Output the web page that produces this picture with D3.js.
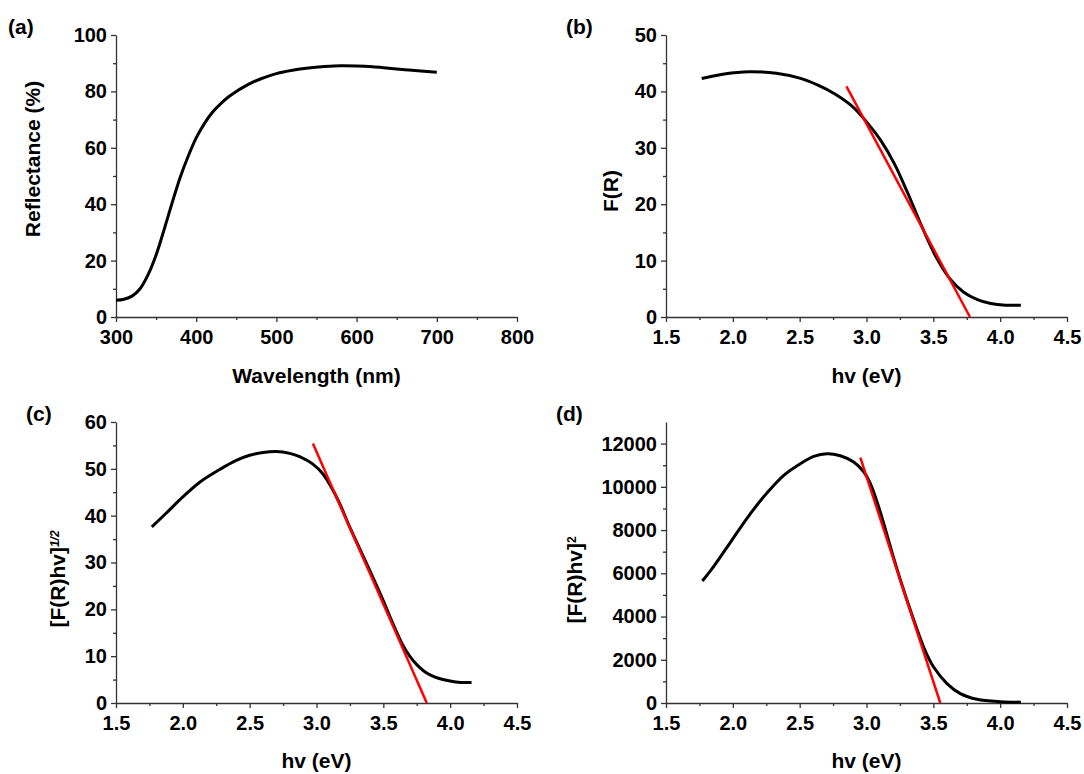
<!DOCTYPE html>
<html>
<head>
<meta charset="utf-8">
<script src="https://cdn.jsdelivr.net/npm/d3@7"></script>
<style>
  body { margin: 0; background: #fff; }
  svg { display: block; font-family: Arial, "Liberation Sans", sans-serif; font-weight: bold; }
  .domain, .tick line { stroke: #333; stroke-width: 1.3; }
  .tick text { fill: #000; font-size: 20px; }
</style>
</head>
<body>
<svg id="chart" width="1084" height="774"></svg>
<script>
'use strict';
// (a) reflectance spectrum
var A_WAVELENGTH = [300, 310, 320, 330, 340, 350, 360, 370, 380, 390, 400, 410, 420, 430, 440, 450,
  460, 470, 480, 500, 520, 540, 560, 580, 600, 620, 640, 660, 680, 700];
var A_REFLECTANCE = [5.9, 6.3, 7.4, 10, 15, 22, 31, 40.5, 49.5, 57, 63.5, 68.5, 72.5, 75.5, 78, 80,
  81.7, 83.2, 84.4, 86.3, 87.5, 88.3, 88.8, 89.1, 89.0, 88.7, 88.2, 87.7, 87.2, 86.8];

// (b) F(R)
var B_ENERGY = [1.767, 1.936, 2.118, 2.325, 2.507, 2.637, 2.767, 2.896, 3.0, 3.104, 3.208, 3.31,
  3.415, 3.519, 3.623, 3.727, 3.83, 3.93, 4.04, 4.155];
var B_FR = [42.3, 43.1, 43.5, 43.2, 42.3, 41.1, 39.5, 37.3, 34.6, 31.4, 27.2, 21.9,
  16, 10.7, 6.8, 4.4, 3.1, 2.4, 2.1, 2.1];
var B_FIT_X = [2.85, 3.774];
var B_FIT_Y = [40.9, 0];

// (c) [F(R)hv]^1/2
var C_ENERGY = [1.768, 1.871, 2.0, 2.129, 2.284, 2.4, 2.5, 2.6, 2.7, 2.8, 2.874, 2.973, 3.048,
  3.11, 3.173, 3.248, 3.322, 3.4, 3.5, 3.55, 3.608, 3.65, 3.7, 3.75, 3.8, 3.85, 3.9, 4.0, 4.08, 4.16];
var C_VALUE = [37.6, 40.4, 44.0, 47.2, 50.0, 51.8, 52.9, 53.5, 53.7, 53.3, 52.6, 51.0, 48.9,
  46.1, 42.6, 37.6, 33.0, 28.2, 21.8, 18.4, 14.6, 12.1, 9.9, 8.2, 6.9, 6.0, 5.4, 4.7, 4.4, 4.4];
var C_FIT_X = [2.973, 3.825];
var C_FIT_Y = [55.4, 0];

// (d) [F(R)hv]^2
var D_ENERGY = [1.772, 1.863, 1.992, 2.122, 2.251, 2.381, 2.505, 2.605, 2.705, 2.804, 2.904, 2.979,
  3.029, 3.1, 3.18, 3.253, 3.35, 3.44, 3.502, 3.602, 3.702, 3.827, 4.0, 4.155];
var D_VALUE = [5646, 6370, 7527, 8684, 9687, 10535, 11073, 11411, 11536, 11440, 11150, 10700,
  10150, 8900, 7200, 5700, 3900, 2400, 1665, 897, 435, 171, 60, 40];
var D_FIT_X = [2.954, 3.552];
var D_FIT_Y = [11350, 0];

// ticks
var A_XTICKS = [300, 400, 500, 600, 700, 800];
var A_XMINOR = [350, 450, 550, 650, 750];
var EV_TICKS = [1.5, 2.0, 2.5, 3.0, 3.5, 4.0, 4.5];
var EV_MINOR = [1.75, 2.25, 2.75, 3.25, 3.75, 4.25];
var A_YTICKS = [0, 20, 40, 60, 80, 100];
var A_YMINOR = [10, 30, 50, 70, 90];
var B_YTICKS = [0, 10, 20, 30, 40, 50];
var B_YMINOR = [5, 15, 25, 35, 45];
var C_YTICKS = [0, 10, 20, 30, 40, 50, 60];
var C_YMINOR = [5, 15, 25, 35, 45, 55];
var D_YTICKS = [0, 2000, 4000, 6000, 8000, 10000, 12000];
var D_YMINOR = [1000, 3000, 5000, 7000, 9000, 11000];

var svg = d3.select('#chart');

function zip(xs, ys) {
  return xs.map(function(x, i) { return [x, ys[i]]; });
}

var panels = [
  { tag: '(a)', tagX: 8, tagY: 34, left: 116, right: 517, top: 35, bottom: 317,
    xDomain: [300, 800], yDomain: [0, 100],
    xTicks: A_XTICKS, xMinor: A_XMINOR, xFmt: d3.format('d'),
    yTicks: A_YTICKS, yMinor: A_YMINOR,
    xTitle: 'Wavelength (nm)', xTitleY: 383,
    yTitle: ['Reflectance (%)'], yTitleX: 33, yTitleY: 159,
    curve: zip(A_WAVELENGTH, A_REFLECTANCE), fit: null },
  { tag: '(b)', tagX: 566, tagY: 34, left: 666, right: 1067, top: 35, bottom: 317,
    xDomain: [1.5, 4.5], yDomain: [0, 50],
    xTicks: EV_TICKS, xMinor: EV_MINOR, xFmt: d3.format('.1f'),
    yTicks: B_YTICKS, yMinor: B_YMINOR,
    xTitle: 'hv (eV)', xTitleY: 383,
    yTitle: ['F(R)'], yTitleX: 611, yTitleY: 191,
    curve: zip(B_ENERGY, B_FR), fit: zip(B_FIT_X, B_FIT_Y) },
  { tag: '(c)', tagX: 26, tagY: 421, left: 116, right: 517, top: 422, bottom: 703,
    xDomain: [1.5, 4.5], yDomain: [0, 60],
    xTicks: EV_TICKS, xMinor: EV_MINOR, xFmt: d3.format('.1f'),
    yTicks: C_YTICKS, yMinor: C_YMINOR,
    xTitle: 'hv (eV)', xTitleY: 768,
    yTitle: ['[F(R)hv]', '1/2'], yTitleX: 58, yTitleY: 579,
    curve: zip(C_ENERGY, C_VALUE), fit: zip(C_FIT_X, C_FIT_Y) },
  { tag: '(d)', tagX: 556, tagY: 421, left: 666, right: 1067, top: 422, bottom: 703,
    xDomain: [1.5, 4.5], yDomain: [0, 13000],
    xTicks: EV_TICKS, xMinor: EV_MINOR, xFmt: d3.format('.1f'),
    yTicks: D_YTICKS, yMinor: D_YMINOR,
    xTitle: 'hv (eV)', xTitleY: 768,
    yTitle: ['[F(R)hv]', '2'], yTitleX: 575, yTitleY: 580,
    curve: zip(D_ENERGY, D_VALUE), fit: zip(D_FIT_X, D_FIT_Y) }
];

panels.forEach(drawPanel);

function drawPanel(p) {
  var x = d3.scaleLinear().domain(p.xDomain).range([p.left, p.right]);
  var y = d3.scaleLinear().domain(p.yDomain).range([p.bottom, p.top]);

  // minor ticks first, then major axes on top
  svg.append('g')
    .attr('transform', 'translate(0,' + p.bottom + ')')
    .call(d3.axisBottom(x).tickValues(p.xMinor).tickSize(3).tickFormat(''))
    .select('.domain').remove();
  svg.append('g')
    .attr('transform', 'translate(' + p.left + ',0)')
    .call(d3.axisLeft(y).tickValues(p.yMinor).tickSize(3).tickFormat(''))
    .select('.domain').remove();

  svg.append('g')
    .attr('transform', 'translate(0,' + p.bottom + ')')
    .call(d3.axisBottom(x).tickValues(p.xTicks).tickSize(5).tickSizeOuter(0)
      .tickPadding(8).tickFormat(p.xFmt));
  svg.append('g')
    .attr('transform', 'translate(' + p.left + ',0)')
    .call(d3.axisLeft(y).tickValues(p.yTicks).tickSize(5).tickSizeOuter(0)
      .tickPadding(4).tickFormat(d3.format('d')));

  var line = d3.line()
    .x(function(d) { return x(d[0]); })
    .y(function(d) { return y(d[1]); })
    .curve(d3.curveCatmullRom.alpha(0.5));

  svg.append('path')
    .attr('d', line(p.curve))
    .attr('fill', 'none')
    .attr('stroke', '#000')
    .attr('stroke-width', 3);

  if (p.fit) {
    svg.append('path')
      .attr('d', d3.line().x(function(d) { return x(d[0]); }).y(function(d) { return y(d[1]); })(p.fit))
      .attr('fill', 'none')
      .attr('stroke', '#ff0000')
      .attr('stroke-width', 2.5);
  }

  svg.append('text')
    .attr('x', p.tagX).attr('y', p.tagY)
    .attr('font-size', 21)
    .text(p.tag);

  svg.append('text')
    .attr('x', (p.left + p.right) / 2).attr('y', p.xTitleY)
    .attr('text-anchor', 'middle')
    .attr('font-size', 21)
    .text(p.xTitle);

  var yt = svg.append('text')
    .attr('transform', 'translate(' + p.yTitleX + ',' + p.yTitleY + ') rotate(-90)')
    .attr('text-anchor', 'middle')
    .attr('dy', '0.35em')
    .attr('font-size', 21);
  yt.append('tspan').text(p.yTitle[0]);
  if (p.yTitle[1]) {
    yt.append('tspan')
      .attr('dy', '-0.55em')
      .attr('font-size', 12)
      .attr('font-style', p.yTitle[1] === '1/2' ? 'italic' : 'normal')
      .text(p.yTitle[1]);
  }
}
</script>
</body>
</html>
